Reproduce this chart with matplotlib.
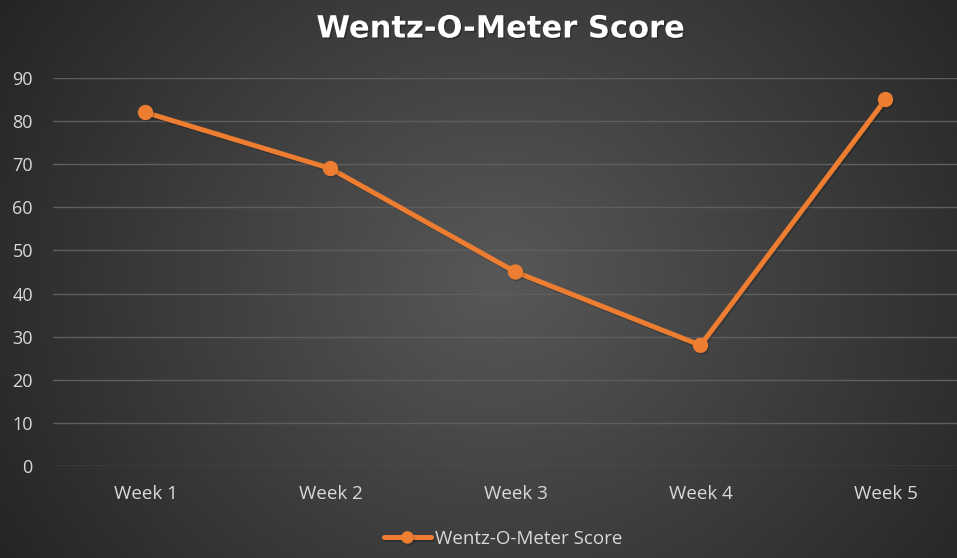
import numpy as np
import matplotlib
matplotlib.use("Agg")
import matplotlib.pyplot as plt
import matplotlib.patheffects as pe

categories = ["Week 1", "Week 2", "Week 3", "Week 4", "Week 5"]
scores = [82, 69, 45, 28, 85]
series_name = "Wentz-O-Meter Score"
title = "Wentz-O-Meter Score"
yticks = [0, 10, 20, 30, 40, 50, 60, 70, 80, 90]

plt.rcParams['font.family'] = ['Open Sans', 'DejaVu Sans']

W, H = 957, 558
fig = plt.figure(figsize=(W / 100, H / 100), dpi=100)

# radial gradient background
bg = fig.add_axes([0, 0, 1, 1])
yy, xx = np.mgrid[0:H, 0:W]
cx, cy = W * 0.52, H * 0.5
r = np.sqrt(((xx - cx) / (W * 0.62)) ** 2 + ((yy - cy) / (H * 0.95)) ** 2)
r = np.clip(r, 0, 1)
inner = np.array([0x58, 0x58, 0x58]) / 255
outer = np.array([0x24, 0x24, 0x24]) / 255
img = inner[None, None, :] * (1 - r[..., None]) + outer[None, None, :] * r[..., None]
bg.imshow(img, aspect='auto', extent=[0, 1, 0, 1], zorder=0)
bg.axis('off')

left = 53 / W
right = 957 / W
bottom = 1 - 466 / H
top = 1 - 78 / H
ax = fig.add_axes([left, bottom, right - left, top - bottom])
ax.patch.set_alpha(0)

x = np.arange(1, len(categories) + 1)
unit = 185.0
xmax = 0.5 + (957 - 53) / unit
ax.set_xlim(0.5, xmax)
ax.set_ylim(0, 90)

ax.set_yticks(yticks)
ax.set_xticks(x)
ax.set_xticklabels(categories)
ax.grid(axis='y', color='#5e5e5e', linewidth=1.0)
ax.set_axisbelow(True)
for s in ax.spines.values():
    s.set_visible(False)
ax.tick_params(axis='both', length=0, colors='#d9d9d9', labelsize=13)
ax.tick_params(axis='x', labelsize=13.5)
ax.tick_params(axis='y', pad=14.5)
ax.tick_params(axis='x', pad=14)

ax.plot(x, scores, color='#ED7D31', linewidth=3.6, marker='o', markersize=10,
        markerfacecolor='#ED7D31', markeredgecolor='#ED7D31', label=series_name,
        solid_capstyle='round', clip_on=False,
        path_effects=[pe.SimpleLineShadow(offset=(1.0, -1.2), shadow_color='black', alpha=0.2), pe.Normal()])

fig.text(500 / W, 1 - 29 / H, title, ha='center', va='center', color='white',
         fontsize=22, fontweight='bold', family=['DejaVu Sans'],
         path_effects=[pe.withSimplePatchShadow(offset=(1, -1), shadow_rgbFace='black', alpha=0.3)])

leg = fig.legend(loc='center', bbox_to_anchor=(503 / W, 1 - 539 / H), frameon=False,
                 fontsize=13.5, labelcolor='#d9d9d9', handlelength=2.5, handletextpad=0.2,
                 markerscale=0.8)

fig.savefig("out.png", dpi=100)
